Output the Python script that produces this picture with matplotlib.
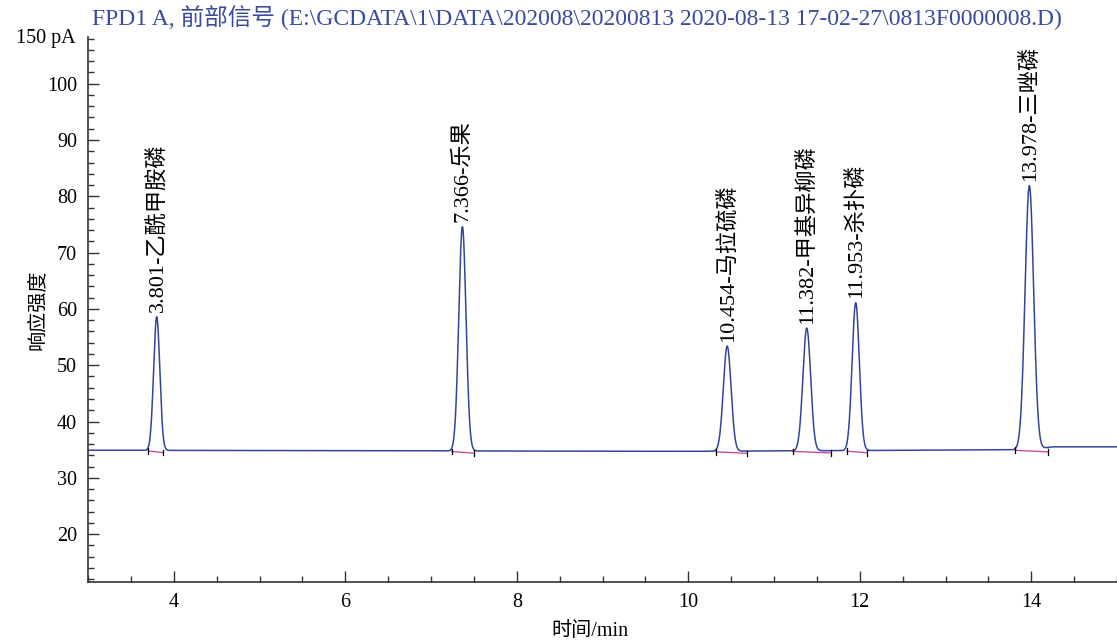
import matplotlib
matplotlib.use("Agg")
import matplotlib.pyplot as plt
import numpy as np
from matplotlib.ticker import MultipleLocator

plt.rcParams['font.family'] = ['Liberation Serif', 'Noto Sans CJK SC', 'DejaVu Sans']

# peaks
peak_rt = [3.801, 7.366, 10.454, 11.382, 11.953, 13.978]
peak_height = [58.6, 74.6, 53.4, 56.6, 61.1, 81.9]
peak_sigma = [0.036, 0.042, 0.045, 0.045, 0.042, 0.050]
peak_names = ["乙酰甲胺磷", "乐果", "马拉硫磷", "甲基异柳磷", "杀扑磷", "三唑磷"]

# integration baselines (start, end) in min
int_start = [3.70, 7.24, 10.32, 11.22, 11.85, 13.81]
int_end = [3.88, 7.50, 10.68, 11.66, 12.08, 14.20]

# detector baseline level (pA)
base_times = [3.0, 10.0, 14.0, 14.25, 15.0]
base_levels = [34.9, 34.7, 35.0, 35.5, 35.5]

title = r"FPD1 A, 前部信号 (E:\GCDATA\1\DATA\202008\20200813 2020-08-13 17-02-27\0813F0000008.D)"

trace_color = "#34449c"

fig = plt.figure(figsize=(11.17, 6.43), dpi=100)
ax = fig.add_axes([0.0788, 0.0949, 0.9212, 0.8476])

t = np.linspace(3.0, 15.0, 6001)
baseline = np.interp(t, base_times, base_levels)
signal = baseline.copy()
for rt, h, s in zip(peak_rt, peak_height, peak_sigma):
    b = np.interp(rt, base_times, base_levels)
    signal += (h - b) * np.exp(-0.5 * ((t - rt) / s) ** 2)

ax.plot(t, signal, color=trace_color, lw=1.1)

for rt, h, name, s0, s1 in zip(peak_rt, peak_height, peak_names, int_start, int_end):
    y0 = np.interp(s0, base_times, base_levels) - 0.1
    y1 = np.interp(s1, base_times, base_levels) - 0.4
    if s1 > 14.0:
        y1 = 34.6
    ax.plot([s0, s1], [y0, y1], color="#c0409a", lw=0.9)
    ax.plot([s0, s0], [y0 - 0.5, y0 + 0.5], color="black", lw=0.9)
    ax.plot([s1, s1], [y1 - 0.5, y1 + 0.5], color="black", lw=0.9)
    ax.text(rt, h + 0.8, f"{rt:.3f}-{name}", rotation=90, ha="center", va="bottom",
            fontsize=16)

ax.set_xlim(3.0, 15.0)
ax.set_ylim(11.5, 108.3)
ax.set_xticks([4, 6, 8, 10, 12, 14])
ax.set_yticks([20, 30, 40, 50, 60, 70, 80, 90, 100])
ax.xaxis.set_minor_locator(MultipleLocator(0.5))
ax.yaxis.set_minor_locator(MultipleLocator(2))
ax.tick_params(which="major", direction="in", length=8, width=1.0, color="#333333",
               labelsize=14.5, pad=8)
ax.tick_params(which="minor", direction="in", length=4.5, width=1.0, color="#333333")
for side in ["top", "right"]:
    ax.spines[side].set_visible(False)
for side in ["left", "bottom"]:
    ax.spines[side].set_color("#333333")
    ax.spines[side].set_linewidth(1.2)

ax.text(-0.012, 108.0, "150 pA", transform=ax.get_yaxis_transform(), ha="right",
        va="center", fontsize=14.5)

fig.text(0.034, 0.518, "响应强度", rotation=90, ha="center", va="center", fontsize=14.5)
fig.text(0.528, 0.018, "时间/min", ha="center", va="center", fontsize=14.5)
fig.text(0.082, 0.972, title, ha="left", va="center", fontsize=17, color="#3a4a9e")

fig.savefig("out.png", dpi=100)
